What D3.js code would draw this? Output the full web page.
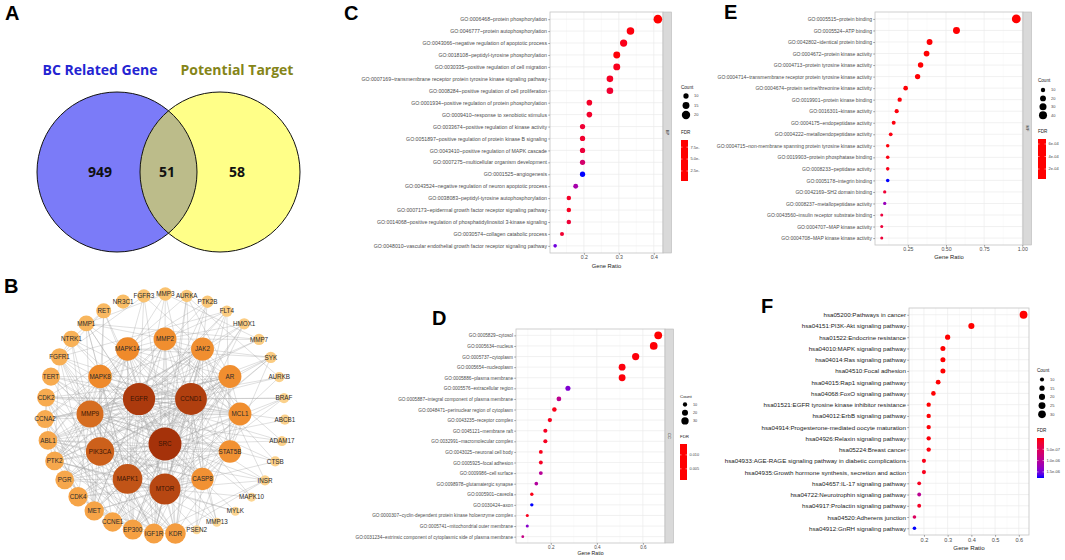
<!DOCTYPE html>
<html lang="en">
<head>
<meta charset="UTF-8">
<title>BC targets - Venn, PPI network, GO and KEGG enrichment</title>
<script src="https://cdnjs.cloudflare.com/ajax/libs/d3/7.8.5/d3.min.js"></script>
<style>
    body { margin: 0; background: #fff; }
    svg { display: block; font-family: "Liberation Sans", Arial, sans-serif; }
    .letter { font-weight: bold; font-size: 20px; fill: #000; }
    .venn-title { font-family: "Open Sans", sans-serif; font-weight: bold; font-size: 14px; }
    .venn-num { font-family: "Open Sans", sans-serif; font-weight: bold; font-size: 14px; fill: #111; }
</style>
</head>
<body>
<svg id="fig" width="1065" height="560"></svg>
<script>
// ---------- A: Venn ----------
const vennSets = ["BC Related Gene", "Potential Target"];
const vennCounts = [949, 51, 58];

// ---------- B: PPI network (concentric rings, sorted by degree) ----------
const ringInner = ["CCND1", "SRC", "EGFR"];
const ringMiddle = ["MMP2", "JAK2", "AR", "MCL1", "STAT5B", "CASP8", "MTOR", "MAPK1", "PIK3CA", "MMP9", "MAPK8", "MAPK14"];
const ringOuter = ["KDR", "IGF1R", "EP300", "CCNE1", "MET", "CDK4", "PGR", "PTK2", "ABL1", "CCNA2", "CDK2", "TERT",
    "FGFR1", "NTRK1", "MMP1", "RET", "NR3C1", "FGFR3", "MMP3", "AURKA", "PTK2B", "FLT4", "HMOX1", "MMP7", "SYK",
    "AURKB", "BRAF", "ABCB1", "ADAM17", "CTSB", "INSR", "MAPK10", "MYLK", "MMP13", "PSEN2"];
const degInner = [41, 44, 42];
const degMiddle = [22, 22, 22, 22, 21, 21, 39, 36, 33, 30, 23, 23];
const degOuter = [18, 17, 17, 16, 16, 16, 15, 15, 15, 14, 14, 14, 13, 12, 11, 10, 9, 8, 8, 7, 7, 6, 6, 6, 6,
    5, 5, 5, 5, 5, 5, 4, 4, 4, 4];
const ppiLinks = [
    "SRC:EGFR CCND1 MTOR MAPK1 PIK3CA MMP9 MAPK8 MAPK14 MMP2 JAK2 AR MCL1 STAT5B CASP8 KDR IGF1R EP300 MET PTK2 ABL1 PGR CDK2 FGFR1 NTRK1 RET FGFR3 PTK2B SYK BRAF INSR ADAM17 FLT4 AURKA MMP1 CCNE1 CDK4 TERT ABCB1 HMOX1 MYLK",
    "EGFR:CCND1 MTOR MAPK1 PIK3CA MMP9 MAPK8 MAPK14 MMP2 JAK2 AR MCL1 STAT5B CASP8 KDR IGF1R EP300 MET PTK2 ABL1 PGR CDK2 FGFR1 NTRK1 RET FGFR3 BRAF INSR ADAM17 FLT4 HMOX1 MMP7 TERT CCNA2 ABCB1 CTSB",
    "CCND1:MTOR MAPK1 PIK3CA MMP9 MAPK8 MAPK14 MMP2 JAK2 AR MCL1 STAT5B CASP8 KDR IGF1R EP300 MET PTK2 ABL1 PGR CDK2 CDK4 CCNE1 CCNA2 TERT AURKA AURKB BRAF FGFR1 HMOX1 NTRK1 PSEN2 MMP1",
    "MTOR:MAPK1 PIK3CA MMP9 MAPK8 MAPK14 JAK2 AR MCL1 STAT5B CASP8 KDR IGF1R EP300 MET PTK2 PGR CDK2 CDK4 CCNE1 TERT INSR BRAF HMOX1 MAPK10 AURKA FGFR1",
    "MAPK1:PIK3CA MMP9 MAPK8 MAPK14 MMP2 JAK2 AR MCL1 STAT5B CASP8 KDR IGF1R EP300 MET PTK2 ABL1 PGR CDK4 CCNE1 BRAF MMP1 MMP3 MMP13 SYK PTK2B MYLK",
    "PIK3CA:MMP9 MAPK8 MAPK14 JAK2 AR STAT5B CASP8 KDR IGF1R EP300 MET PTK2 ABL1 PGR CDK2 CCNE1 NTRK1 FGFR1 FGFR3 FLT4 INSR SYK RET",
    "MMP9:MAPK8 MAPK14 MMP2 JAK2 AR MCL1 STAT5B CASP8 KDR IGF1R MET PTK2 MMP1 MMP3 MMP7 MMP13 ADAM17 CTSB HMOX1 TERT CDK4 PSEN2",
    "MAPK8:MAPK14 MMP2 JAK2 MCL1 CASP8 EP300 ABL1 PTK2 MAPK10 PGR CCNA2 MMP1",
    "MAPK14:MMP2 JAK2 AR MCL1 STAT5B CASP8 EP300 ABL1 PTK2 PTK2B MAPK10 CDK2 SYK",
    "MMP2:JAK2 AR MCL1 KDR IGF1R MET PTK2 MMP1 MMP3 MMP7 MMP13 ADAM17 CTSB FLT4 HMOX1",
    "JAK2:AR MCL1 STAT5B CASP8 KDR IGF1R EP300 ABL1 PTK2 PTK2B SYK INSR FGFR3",
    "AR:MCL1 STAT5B CASP8 EP300 PGR CDK2 CDK4 CCNE1 CCNA2 AURKA IGF1R TERT",
    "MCL1:STAT5B CASP8 EP300 CDK2 CCNA2 AURKB ABL1 PSEN2",
    "STAT5B:CASP8 EP300 ABL1 PGR KDR IGF1R SYK FLT4",
    "CASP8:EP300 ABL1 CDK4 PSEN2 CTSB TERT MET",
    "KDR:FLT4 IGF1R MET PTK2 FGFR1 ABL1 INSR",
    "IGF1R:INSR MET PTK2 FGFR1 ABL1 EP300",
    "EP300:CCNE1 CDK4 CDK2 PGR CCNA2 TERT",
    "CCNE1:CDK4 CDK2 CCNA2",
    "MET:PTK2 ABL1 FGFR1 NTRK1 RET",
    "CDK4:CDK2 CCNA2 PGR",
    "PTK2:ABL1 FGFR1 SYK MYLK PTK2B",
    "ABL1:CDK2 SYK",
    "CCNA2:CDK2 AURKA AURKB",
    "FGFR1:FGFR3 NTRK1 RET FLT4",
    "NTRK1:RET",
    "AURKA:AURKB",
    "MMP1:MMP3 MMP7 MMP13",
    "MMP3:MMP7 MMP13"
];

// ---------- C: GO biological process ----------
const cTerms = [
    "GO:0006468~protein phosphorylation",
    "GO:0046777~protein autophosphorylation",
    "GO:0043066~negative regulation of apoptotic process",
    "GO:0018108~peptidyl-tyrosine phosphorylation",
    "GO:0030335~positive regulation of cell migration",
    "GO:0007169~transmembrane receptor protein tyrosine kinase signaling pathway",
    "GO:0008284~positive regulation of cell proliferation",
    "GO:0001934~positive regulation of protein phosphorylation",
    "GO:0009410~response to xenobiotic stimulus",
    "GO:0033674~positive regulation of kinase activity",
    "GO:0051897~positive regulation of protein kinase B signaling",
    "GO:0043410~positive regulation of MAPK cascade",
    "GO:0007275~multicellular organism development",
    "GO:0001525~angiogenesis",
    "GO:0043524~negative regulation of neuron apoptotic process",
    "GO:0038083~peptidyl-tyrosine autophosphorylation",
    "GO:0007173~epidermal growth factor receptor signaling pathway",
    "GO:0014068~positive regulation of phosphatidylinositol 3-kinase signaling",
    "GO:0030574~collagen catabolic process",
    "GO:0048010~vascular endothelial growth factor receptor signaling pathway"];
const cCounts = [21, 17, 16, 15, 15, 14, 14, 11, 11, 10, 10, 10, 10, 10, 9, 8, 8, 8, 7, 6];
const cFdr = [4e-6, 6e-6, 8e-6, 5e-6, 9e-6, 1.1e-5, 1.5e-5, 1.2e-5, 1.3e-5, 1.6e-5, 1.4e-5, 1.8e-5, 3.6e-5,
    9.0e-5, 6.0e-5, 1.2e-5, 1.0e-5, 1.7e-5, 1.5e-5, 7.8e-5];

// ---------- D: GO cellular component ----------
const dTerms = [
    "GO:0005829~cytosol",
    "GO:0005634~nucleus",
    "GO:0005737~cytoplasm",
    "GO:0005654~nucleoplasm",
    "GO:0005886~plasma membrane",
    "GO:0005576~extracellular region",
    "GO:0005887~integral component of plasma membrane",
    "GO:0048471~perinuclear region of cytoplasm",
    "GO:0043235~receptor complex",
    "GO:0045121~membrane raft",
    "GO:0032991~macromolecular complex",
    "GO:0043025~neuronal cell body",
    "GO:0005925~focal adhesion",
    "GO:0009986~cell surface",
    "GO:0098978~glutamatergic synapse",
    "GO:0005901~caveola",
    "GO:0030424~axon",
    "GO:0000307~cyclin-dependent protein kinase holoenzyme complex",
    "GO:0005741~mitochondrial outer membrane",
    "GO:0031234~extrinsic component of cytoplasmic side of plasma membrane"];
const dCounts = [34, 33, 29, 26, 26, 14, 12, 11, 10, 9, 9, 8, 8, 8, 7, 6, 6, 5, 5, 4];
const dFdr = [0.0010, 0.0011, 0.0012, 0.0013, 0.0012, 0.0115, 0.0078, 0.0016, 0.0018, 0.0020, 0.0019, 0.0017,
    0.0021, 0.0082, 0.0086, 0.0015, 0.0139, 0.0017, 0.0112, 0.0072];

// ---------- E: GO molecular function ----------
const eTerms = [
    "GO:0005515~protein binding",
    "GO:0005524~ATP binding",
    "GO:0042802~identical protein binding",
    "GO:0004672~protein kinase activity",
    "GO:0004713~protein tyrosine kinase activity",
    "GO:0004714~transmembrane receptor protein tyrosine kinase activity",
    "GO:0004674~protein serine/threonine kinase activity",
    "GO:0019901~protein kinase binding",
    "GO:0016301~kinase activity",
    "GO:0004175~endopeptidase activity",
    "GO:0004222~metalloendopeptidase activity",
    "GO:0004715~non-membrane spanning protein tyrosine kinase activity",
    "GO:0019903~protein phosphatase binding",
    "GO:0008233~peptidase activity",
    "GO:0005178~integrin binding",
    "GO:0042169~SH2 domain binding",
    "GO:0008237~metallopeptidase activity",
    "GO:0043560~insulin receptor substrate binding",
    "GO:0004707~MAP kinase activity",
    "GO:0004708~MAP kinase kinase activity"];
const eCounts = [49, 29, 20, 19, 17, 16, 12, 10, 9, 8, 7, 6, 6, 6, 6, 5, 5, 4, 4, 4];
const eFdr = [4e-5, 4.2e-5, 4.5e-5, 4.1e-5, 4.3e-5, 4.4e-5, 4.6e-5, 5e-5, 5.2e-5, 5.5e-5, 6e-5, 5e-5, 6e-5,
    7e-5, 6.8e-4, 1.3e-4, 5.0e-4, 1.5e-4, 1.4e-4, 1.4e-4];

// ---------- F: KEGG ----------
const fTerms = [
    "hsa05200:Pathways in cancer",
    "hsa04151:PI3K-Akt signaling pathway",
    "hsa01522:Endocrine resistance",
    "hsa04010:MAPK signaling pathway",
    "hsa04014:Ras signaling pathway",
    "hsa04510:Focal adhesion",
    "hsa04015:Rap1 signaling pathway",
    "hsa04068:FoxO signaling pathway",
    "hsa01521:EGFR tyrosine kinase inhibitor resistance",
    "hsa04012:ErbB signaling pathway",
    "hsa04914:Progesterone-mediated oocyte maturation",
    "hsa04926:Relaxin signaling pathway",
    "hsa05224:Breast cancer",
    "hsa04933:AGE-RAGE signaling pathway in diabetic complications",
    "hsa04935:Growth hormone synthesis, secretion and action",
    "hsa04657:IL-17 signaling pathway",
    "hsa04722:Neurotrophin signaling pathway",
    "hsa04917:Prolactin signaling pathway",
    "hsa04520:Adherens junction",
    "hsa04912:GnRH signaling pathway"];
const fCounts = [31, 20, 15, 14, 14, 14, 13, 12, 11, 11, 11, 11, 11, 10, 10, 9, 9, 9, 8, 8];
const fFdr = [1e-15, 1e-10, 1e-9, 2e-9, 3e-9, 4e-9, 8e-9, 1e-8, 5e-9, 1e-8, 2e-8, 3e-8, 4e-8, 8e-8, 1e-7,
    1.2e-7, 9.5e-7, 1.5e-7, 5.5e-7, 1.77e-6];

const svg = d3.select("#fig");
svg.append("rect").attr("width", 1065).attr("height", 560).attr("fill", "#fff");

function letter(t, x, y) {
    svg.append("text").attr("class", "letter").attr("x", x).attr("y", y).text(t);
}

// ================= A =================
function drawVenn() {
    const g = svg.append("g");
    const cx = d3.scaleLinear().domain([0, 1]).range([117, 220]);
    const cy = 172, r = 80;
    g.append("clipPath").attr("id", "clipLeft")
        .append("circle").attr("cx", cx(0)).attr("cy", cy).attr("r", r);
    g.append("circle").attr("cx", cx(0)).attr("cy", cy).attr("r", r).attr("fill", "#7b7bf8");
    g.append("circle").attr("cx", cx(1)).attr("cy", cy).attr("r", r).attr("fill", "#ffff88");
    g.append("circle").attr("cx", cx(1)).attr("cy", cy).attr("r", r).attr("fill", "#bcbc8a")
        .attr("clip-path", "url(#clipLeft)");
    [0, 1].forEach(i => g.append("circle").attr("cx", cx(i)).attr("cy", cy).attr("r", r)
        .attr("fill", "none").attr("stroke", "#111").attr("stroke-width", 1));

    const titleX = [100, 237], titleCol = ["#2424d2", "#858518"];
    vennSets.forEach((s, i) => g.append("text").attr("class", "venn-title")
        .attr("x", titleX[i]).attr("y", 75).attr("text-anchor", "middle")
        .attr("fill", titleCol[i]).text(s));
    const numX = [100, 167, 237];
    vennCounts.forEach((n, i) => g.append("text").attr("class", "venn-num")
        .attr("x", numX[i]).attr("y", 177).attr("text-anchor", "middle").text(n));
}

// ================= B =================
function drawNetwork() {
    const g = svg.append("g");
    const center = [165, 414];
    const nodes = [];
    const addRing = (names, degs, radius, startDeg) => {
        const ang = d3.scaleLinear().domain([0, names.length]).range([startDeg, startDeg + 360]);
        names.forEach((n, i) => {
            const a = ang(i) * Math.PI / 180;
            nodes.push({ id: n, deg: degs[i],
                x: center[0] + radius * Math.sin(a), y: center[1] - radius * Math.cos(a) });
        });
    };
    addRing(ringInner, degInner, 30, 60);
    addRing(ringMiddle, degMiddle, 75, 0);
    addRing(ringOuter, degOuter, 120, 175);
    const byId = new Map(nodes.map(d => [d.id, d]));

    const links = [];
    ppiLinks.forEach(row => {
        const [src, rest] = row.split(":");
        rest.split(" ").forEach(t => links.push({ source: byId.get(src), target: byId.get(t) }));
    });

    const rScale = d3.scaleSqrt().domain([4, 44]).range([4.5, 16.5]);
    const cScale = d3.scaleLinear().domain([4, 9, 17, 23, 44])
        .range(["#fcd694", "#f9bd66", "#f5a043", "#ef8a2b", "#a5320a"]);

    g.selectAll("line.link").data(links).enter().append("line").attr("class", "link")
        .attr("x1", d => d.source.x).attr("y1", d => d.source.y)
        .attr("x2", d => d.target.x).attr("y2", d => d.target.y)
        .attr("stroke", "#a0a0a0").attr("stroke-opacity", 0.55).attr("stroke-width", 0.6);

    const ng = g.selectAll("g.node").data(nodes.slice().sort((a, b) => a.deg - b.deg)).enter()
        .append("g").attr("class", "node").attr("transform", d => `translate(${d.x},${d.y})`);
    ng.append("circle").attr("r", d => rScale(d.deg)).attr("fill", d => cScale(d.deg));
    ng.append("text").attr("text-anchor", "middle").attr("dy", "0.35em")
        .attr("font-size", 6.3).attr("fill", d => d.deg > 28 ? "#3b1505" : "#2b2b2b")
        .text(d => d.id);
}

// ================= dot plots =================
let gradId = 0;
function dotPlot(p) {
    const g = svg.append("g");
    const ratios = p.counts.map(c => c / p.total);
    const [lo, hi] = d3.extent(ratios);
    const pad = (hi - lo) * 0.05;
    const x = d3.scaleLinear().domain([lo - pad, hi + pad]).range([p.x0, p.x1]);
    const y = d3.scalePoint().domain(p.terms).range([p.y0, p.y1]).padding(0.6);
    const size = d3.scaleSqrt().domain(d3.extent(p.counts)).range(p.rRange);
    const fdrExt = d3.extent(p.fdr);
    const col = d3.scaleLinear().domain(fdrExt).range(["#ff0000", "#0000ff"]).interpolate(d3.interpolateLab);

    // panel + grid
    g.append("rect").attr("x", p.x0).attr("y", p.y0).attr("width", p.x1 - p.x0).attr("height", p.y1 - p.y0)
        .attr("fill", "#fff");
    const step = p.ticks[1] - p.ticks[0];
    const minor = d3.range(p.ticks[0] - step / 2, hi + pad, step).filter(v => v > lo - pad && v < hi + pad);
    g.selectAll("line.minor").data(minor).enter().append("line")
        .attr("x1", d => x(d)).attr("x2", d => x(d)).attr("y1", p.y0).attr("y2", p.y1)
        .attr("stroke", "#f2f2f2").attr("stroke-width", 0.4);
    g.selectAll("line.vmaj").data(p.ticks).enter().append("line")
        .attr("x1", d => x(d)).attr("x2", d => x(d)).attr("y1", p.y0).attr("y2", p.y1)
        .attr("stroke", "#ebebeb").attr("stroke-width", 0.7);
    g.selectAll("line.hmaj").data(p.terms).enter().append("line")
        .attr("x1", p.x0).attr("x2", p.x1).attr("y1", d => y(d)).attr("y2", d => y(d))
        .attr("stroke", "#ebebeb").attr("stroke-width", 0.7);
    g.append("rect").attr("x", p.x0).attr("y", p.y0).attr("width", p.x1 - p.x0).attr("height", p.y1 - p.y0)
        .attr("fill", "none").attr("stroke", "#c4c4c4").attr("stroke-width", 0.8);

    // strip
    if (p.strip) {
        g.append("rect").attr("x", p.x1).attr("y", p.y0).attr("width", 8.5).attr("height", p.y1 - p.y0)
            .attr("fill", "#d9d9d9").attr("stroke", "#b8b8b8").attr("stroke-width", 0.6);
        g.append("text").attr("transform", `translate(${p.x1 + 4.25},${(p.y0 + p.y1) / 2}) rotate(90)`)
            .attr("text-anchor", "middle").attr("dy", "0.35em").attr("font-size", 4)
            .attr("fill", "#333").text(p.strip);
    }

    // axes
    const ya = g.append("g").attr("transform", `translate(${p.x0},0)`)
        .call(d3.axisLeft(y).tickSize(1.8).tickPadding(1.2));
    ya.attr("font-family", null).attr("font-size", p.labelSize);
    ya.select(".domain").remove();
    ya.selectAll("text").attr("fill", p.labelColor);
    ya.selectAll("line").attr("stroke", "#555").attr("stroke-width", 0.5);

    const xa = g.append("g").attr("transform", `translate(0,${p.y1})`)
        .call(d3.axisBottom(x).tickValues(p.ticks).tickFormat(d3.format(p.fmt)).tickSize(1.8).tickPadding(1));
    xa.attr("font-family", null).attr("font-size", p.tickSize);
    xa.select(".domain").remove();
    xa.selectAll("text").attr("fill", "#4d4d4d");
    xa.selectAll("line").attr("stroke", "#555").attr("stroke-width", 0.5);

    g.append("text").attr("x", (p.x0 + p.x1) / 2).attr("y", p.titleY).attr("text-anchor", "middle")
        .attr("font-size", p.titleSize).attr("fill", "#222").text("Gene Ratio");

    // points
    g.selectAll("circle.pt").data(p.terms).enter().append("circle").attr("class", "pt")
        .attr("cx", (d, i) => x(ratios[i])).attr("cy", d => y(d))
        .attr("r", (d, i) => size(p.counts[i])).attr("fill", (d, i) => col(p.fdr[i]));

    // size legend
    const L = p.legend;
    g.append("text").attr("x", L.x).attr("y", L.countY).attr("font-size", L.font + 0.6)
        .attr("fill", "#222").text("Count");
    L.counts.forEach((c, i) => {
        const cy = L.countY + L.first + i * L.gap;
        g.append("circle").attr("cx", L.x + 5).attr("cy", cy).attr("r", size(c)).attr("fill", "#000");
        g.append("text").attr("x", L.x + 13).attr("y", cy).attr("dy", "0.35em")
            .attr("font-size", L.font).attr("fill", "#444").text(c);
    });

    // colour bar
    const id = "grad" + (gradId++);
    const grad = svg.append("defs").append("linearGradient").attr("id", id)
        .attr("x1", 0).attr("y1", 0).attr("x2", 0).attr("y2", 1);
    d3.range(0, 1.0001, 0.1).forEach(t => {
        grad.append("stop").attr("offset", p.reverse ? t : 1 - t)
            .attr("stop-color", col(fdrExt[0] + t * (fdrExt[1] - fdrExt[0])));
    });
    g.append("text").attr("x", L.x).attr("y", L.fdrY).attr("font-size", L.font + 0.6)
        .attr("fill", "#222").text("FDR");
    const by0 = L.fdrY + 6, by1 = by0 + L.barH;
    g.append("rect").attr("x", L.x).attr("y", by0).attr("width", L.barW).attr("height", L.barH)
        .attr("fill", `url(#${id})`);
    const bar = d3.scaleLinear().domain(fdrExt).range(p.reverse ? [by0, by1] : [by1, by0]);
    L.ticks.forEach((v, i) => {
        g.append("line").attr("x1", L.x).attr("x2", L.x + 1.5).attr("y1", bar(v)).attr("y2", bar(v))
            .attr("stroke", "#fff").attr("stroke-width", 0.5);
        g.append("line").attr("x1", L.x + L.barW - 1.5).attr("x2", L.x + L.barW).attr("y1", bar(v)).attr("y2", bar(v))
            .attr("stroke", "#fff").attr("stroke-width", 0.5);
        g.append("text").attr("x", L.x + L.barW + 2.5).attr("y", bar(v)).attr("dy", "0.35em")
            .attr("font-size", L.font).attr("fill", "#444").text(L.tickLabels[i]);
    });
}

drawVenn();
drawNetwork();

dotPlot({ terms: cTerms, counts: cCounts, fdr: cFdr, total: 51,
    x0: 550, x1: 663, y0: 12, y1: 253, ticks: [0.2, 0.3, 0.4], fmt: ".1f",
    rRange: [1.8, 4.3], strip: "BP", labelSize: 5.2, labelColor: "#4d4d4d", tickSize: 5.2,
    titleY: 268, titleSize: 5.8,
    legend: { x: 681, countY: 89, first: 7, gap: 9.5, counts: [10, 15, 20], font: 4,
        fdrY: 134, barW: 7, barH: 41, ticks: [7.5e-5, 5e-5, 2.5e-5], tickLabels: ["7.5e-", "5.0e-", "2.5e-"] } });

dotPlot({ terms: dTerms, counts: dCounts, fdr: dFdr, total: 51,
    x0: 516, x1: 665, y0: 329, y1: 543, ticks: [0.2, 0.4, 0.6], fmt: ".1f",
    rRange: [1.4, 3.9], strip: "CC", labelSize: 4.7, labelColor: "#4d4d4d", tickSize: 4.6,
    titleY: 555, titleSize: 5.2,
    legend: { x: 680, countY: 398, first: 6.5, gap: 8.2, counts: [10, 20, 30], font: 3.8,
        fdrY: 438, barW: 7, barH: 36, ticks: [0.010, 0.005], tickLabels: ["0.010", "0.005"] } });

dotPlot({ terms: eTerms, counts: eCounts, fdr: eFdr, total: 51,
    x0: 875, x1: 1023, y0: 12, y1: 245, ticks: [0.25, 0.5, 0.75, 1.0], fmt: ".2f",
    rRange: [1.5, 4.4], strip: "MF", labelSize: 5, labelColor: "#4d4d4d", tickSize: 5.2,
    titleY: 259, titleSize: 5.8,
    legend: { x: 1038, countY: 82, first: 8, gap: 8.4, counts: [10, 20, 30, 40], font: 4,
        fdrY: 133, barW: 8, barH: 40, ticks: [6e-4, 4e-4, 2e-4], tickLabels: ["6e-04", "4e-04", "2e-04"] } });

dotPlot({ terms: fTerms, counts: fCounts, fdr: fFdr, total: 50,
    x0: 909, x1: 1029, y0: 308, y1: 535, ticks: [0.2, 0.3, 0.4, 0.5, 0.6], fmt: ".1f",
    rRange: [1.8, 3.9], strip: null, labelSize: 6.2, labelColor: "#222", tickSize: 5.6,
    titleY: 550, titleSize: 6.2, reverse: true,
    legend: { x: 1037, countY: 372, first: 7.5, gap: 8.7, counts: [10, 15, 20, 25, 30], font: 4,
        fdrY: 432, barW: 7, barH: 40, ticks: [5e-7, 1e-6, 1.5e-6], tickLabels: ["5.0e-07", "1.0e-06", "1.5e-06"] } });

letter("A", 5, 20);
letter("B", 4, 293);
letter("C", 344, 20);
letter("D", 432, 325);
letter("E", 724, 19);
letter("F", 761, 313);
</script>
</body>
</html>
